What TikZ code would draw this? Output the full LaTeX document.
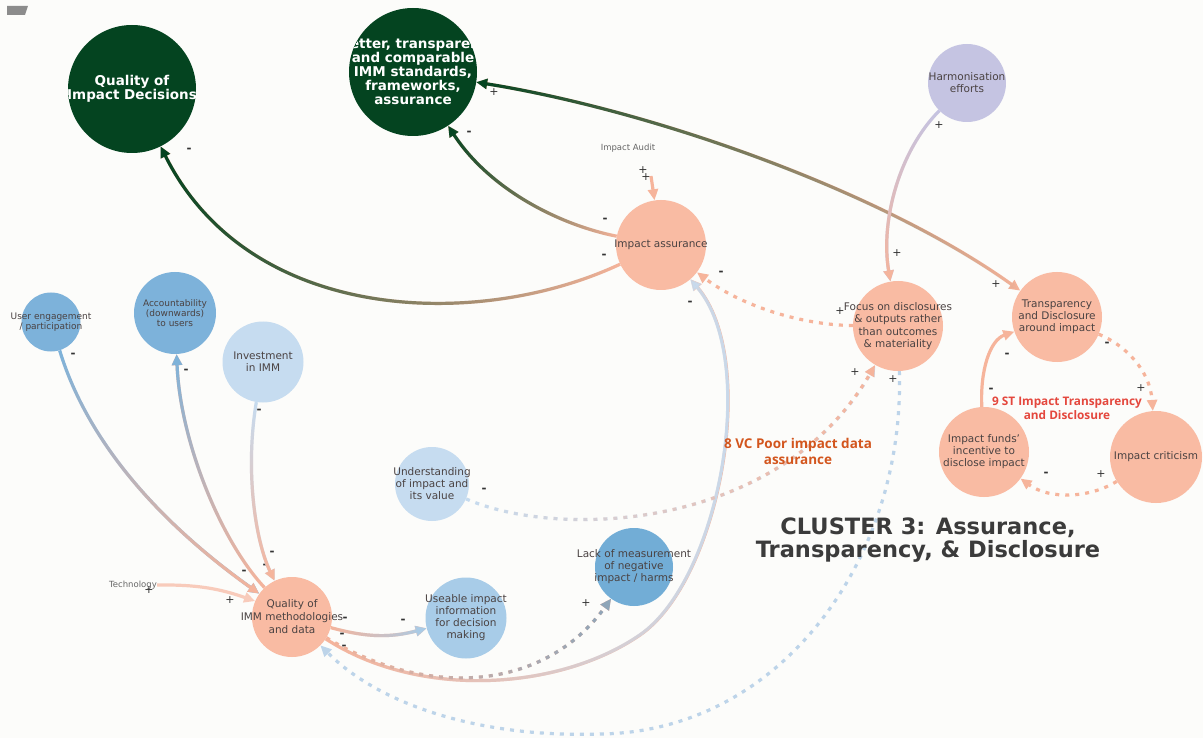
\documentclass[tikz,border=0pt]{standalone}
\usepackage{fontspec}
\setmainfont{DejaVu Sans}
\newfontfamily\loopfont{Open Sans}
\usetikzlibrary{arrows.meta,fadings}

\definecolor{dkgreen}{HTML}{044420}
\definecolor{salmon}{HTML}{F9BBA3}
\definecolor{salmonln}{HTML}{F6B49B}
\definecolor{salmonpale}{HTML}{F8CBBB}
\definecolor{midblue}{HTML}{7DB2DA}
\definecolor{deepblue}{HTML}{72ADD6}
\definecolor{paleblue}{HTML}{C6DCF0}
\definecolor{paledot}{HTML}{BDD4E9}
\definecolor{skyblue}{HTML}{A8CCE8}
\definecolor{lavender}{HTML}{C5C4E2}
\definecolor{greyblue}{HTML}{8DA5B9}
\definecolor{vcorange}{HTML}{D3561E}
\definecolor{stred}{HTML}{E4473D}
\definecolor{inktext}{HTML}{4A4242}
\definecolor{clustergrey}{HTML}{3B3B3B}
\definecolor{bgpaper}{HTML}{FCFCFA}

\begin{document}
\begin{tikzpicture}[x=1pt, y=1pt, >={Triangle[length=11pt,width=10pt]},
  bubble/.style={circle, inner sep=0pt, draw=none},
  txt/.style={align=center, inner sep=0pt, text=inktext, font=\fontsize{10.5}{12}\selectfont},
  smalltxt/.style={txt, font=\fontsize{9}{9.8}\selectfont},
  bigtxt/.style={align=center, inner sep=0pt, text=white, font=\fontsize{13.5}{14}\selectfont\bfseries},
  tinytxt/.style={inner sep=0pt, text=black!60, font=\fontsize{8.5}{9}\selectfont},
  sign/.style={inner sep=0pt, text=black!80, font=\fontsize{11}{11}\selectfont},
  minus/.style={sign, font=\fontsize{12}{12}\selectfont\bfseries},
  looptxt/.style={align=center, inner sep=0pt, font={\loopfont\bfseries\fontsize{13.5}{16}\selectfont}},
  link/.style={->, line width=3.2pt},
  dots/.style={link, dash pattern=on 4pt off 6pt},
  grad/.style n args={3}{draw=#1, postaction={draw=#2, path fading=#3}}
]
\path[use as bounding box, fill=bgpaper] (0,0) rectangle (1203,-738);
\fill[black!45] (7,-6) -- (28,-6) -- (25,-15) -- (7,-15) -- cycle;

% big outcome nodes
\node[bubble, fill=dkgreen, minimum size=128pt,
  path picture={\node[bigtxt] (decisionstxt) at (path picture bounding box.center) {Quality of\\Impact Decisions};}] (decisions) at (132,-89) {};
\node[bubble, fill=dkgreen, minimum size=128pt,
  path picture={\node[bigtxt] (bettertxt) at (path picture bounding box.center) {Better, transparent\\and comparable\\IMM standards,\\frameworks,\\assurance};}] (better) at (413,-72) {};

% factors
\node[bubble, fill=lavender, minimum size=78pt] (harmon) at (967,-83) {};
\node[txt] (harmontxt) at (harmon) {Harmonisation\\efforts};
\node[bubble, fill=salmon, minimum size=90pt] (assurance) at (661,-245) {};
\node[txt] (assurancetxt) at (assurance) {Impact assurance};
\node[bubble, fill=salmon, minimum size=90pt] (focus) at (898,-326) {};
\node[txt, font=\fontsize{10.5}{12.3}\selectfont] (focustxt) at (focus) {Focus on disclosures\\\& outputs rather\\than outcomes\\\& materiality};
\node[bubble, fill=salmon, minimum size=90pt] (transp) at (1057,-317) {};
\node[txt] (transptxt) at (transp) {Transparency\\and Disclosure\\around impact};
\node[bubble, fill=salmon, minimum size=90pt] (funds) at (984,-452) {};
\node[txt] (fundstxt) at (funds) {Impact funds'\\incentive to\\disclose impact};
\node[bubble, fill=salmon, minimum size=92pt] (criticism) at (1156,-457) {};
\node[txt] (criticismtxt) at (criticism) {Impact criticism};
\node[bubble, fill=midblue, minimum size=59pt] (user) at (51,-322) {};
\node[smalltxt] (usertxt) at (user) {User engagement\\/ participation};
\node[bubble, fill=midblue, minimum size=82pt] (account) at (175,-313) {};
\node[smalltxt] (accounttxt) at (account) {Accountability\\(downwards)\\to users};
\node[bubble, fill=paleblue, minimum size=81pt] (invest) at (263,-362) {};
\node[txt] (investtxt) at (invest) {Investment\\in IMM};
\node[bubble, fill=salmon, minimum size=80pt] (quality) at (292,-617) {};
\node[txt, font=\fontsize{10.5}{13}\selectfont] (qualitytxt) at (quality) {Quality of\\IMM methodologies\\and data};
\node[bubble, fill=skyblue, minimum size=81pt] (useable) at (466,-618) {};
\node[txt] (useabletxt) at (useable) {Useable impact\\information\\for decision\\making};
\node[bubble, fill=paleblue, minimum size=74pt] (understand) at (432,-484) {};
\node[txt] (understandtxt) at (understand) {Understanding\\of impact and\\its value};
\node[bubble, fill=deepblue, minimum size=78pt] (lack) at (634,-567) {};
\node[txt] (lacktxt) at (lack) {Lack of measurement\\of negative\\impact / harms};
\node[tinytxt] (audit) at (628,-148) {Impact Audit};
\coordinate (auditpt) at (651,-176);
\node[tinytxt] (technology) at (133,-585) {Technology};

% links
\draw[link, grad={salmonln}{dkgreen}{east}] (assurance) .. controls (480,-330) and (250,-325) .. (decisions)
  node[minus] (m1) at (604,-256) {-} node[minus] (m2) at (189,-150) {-};
\draw[link, grad={salmonln}{dkgreen}{east}] (assurance) .. controls (560,-225) and (490,-190) .. (better)
  node[minus] (m3) at (605,-220) {-} node[minus] (m4) at (469,-133) {-};
\draw[link, <->, grad={salmonln}{dkgreen}{east}] (transp) .. controls (880,-190) and (650,-110) .. (better)
  node[sign] (p1) at (494,-92) {+} node[sign] (p2) at (996,-284) {+};
\draw[link, grad={lavender}{salmonln}{north}] (harmon) .. controls (900,-150) and (880,-220) .. (focus)
  node[sign] (p3) at (939,-125) {+} node[sign] (p4) at (897,-253) {+};
\draw[link, draw=salmonln] (auditpt) -- (assurance)
  node[sign] (p5) at (643,-170) {+} node[sign] (p6) at (646,-177) {+};
\draw[dots, draw=salmonln] (focus) .. controls (800,-325) and (740,-305) .. (assurance)
  node[sign] (p7) at (840,-311) {+} node[minus] (m5) at (721,-273) {-};
\draw[link, grad={salmonln}{paleblue}{west}] (quality) .. controls (420,-700) and (560,-690) .. (640,-635)
  .. controls (720,-580) and (760,-360) .. (assurance)
  node[minus] (m6) at (344,-647) {-} node[minus] (m7) at (690,-303) {-};
\draw[link, grad={salmonln}{skyblue}{west}] (quality) to[bend right=15] (useable)
  node[minus] (m8) at (345,-619) {-} node[minus] (m9) at (403,-621) {-};
\draw[dots, grad={salmonln}{greyblue}{west}] (quality) .. controls (430,-700) and (545,-690) .. (lack)
  node[minus] (m10) at (342,-635) {-} node[sign] (p8) at (586,-603) {+};
\draw[dots, draw=paledot] (focus) .. controls (905,-560) and (780,-732) .. (600,-734)
  .. controls (480,-738) and (380,-705) .. (quality)
  node[sign] (p9) at (893,-379) {+};
\draw[dots, grad={paleblue}{salmonln}{west}] (understand) .. controls (560,-540) and (780,-530) .. (focus)
  node[minus] (m11) at (484,-490) {-} node[sign] (p10) at (855,-372) {+};
\draw[link, grad={midblue}{salmonln}{north}] (user) .. controls (90,-450) and (170,-530) .. (quality)
  node[minus] (m12) at (73,-355) {-} node[minus] (m13) at (244,-572) {-};
\draw[link, grad={salmonln}{midblue}{south}] (quality) .. controls (220,-540) and (180,-440) .. (account)
  node[minus] (m14) at (265,-566) {-} node[minus] (m15) at (186,-371) {-};
\draw[link, grad={paleblue}{salmonln}{north}] (invest) .. controls (245,-470) and (255,-540) .. (quality)
  node[minus] (m16) at (259,-411) {-} node[minus] (m17) at (272,-553) {-};
\draw[link, draw=salmonpale] (technology.east) to[bend left=10] (quality)
  node[sign] (p11) at (149,-590) {+} node[sign] (p12) at (230,-600) {+};
\draw[link, draw=salmonln] (funds) .. controls (980,-370) and (990,-340) .. (transp)
  node[minus] (m18) at (991,-390) {-} node[minus] (m19) at (1007,-355) {-};
\draw[dots, draw=salmonln] (transp) .. controls (1125,-345) and (1150,-370) .. (criticism)
  node[minus] (m20) at (1107,-344) {-} node[sign] (p13) at (1141,-388) {+};
\draw[dots, draw=salmonln] (criticism) .. controls (1090,-498) and (1050,-500) .. (funds)
  node[sign] (p14) at (1101,-474) {+} node[minus] (m21) at (1046,-474) {-};

% loop and cluster titles
\node[looptxt, text=vcorange] (loop8) at (798,-451) {8 VC Poor impact data\\assurance};
\node[looptxt, text=stred, font={\loopfont\bfseries\fontsize{11.8}{14}\selectfont}] (loop9) at (1067,-408) {9 ST Impact Transparency\\and Disclosure};
\node[align=center, inner sep=0pt, text=clustergrey, font=\fontsize{22.5}{22.5}\selectfont\bfseries] (cluster) at (928,-540) {CLUSTER 3: Assurance,\\Transparency, \& Disclosure};
\end{tikzpicture}
\end{document}
